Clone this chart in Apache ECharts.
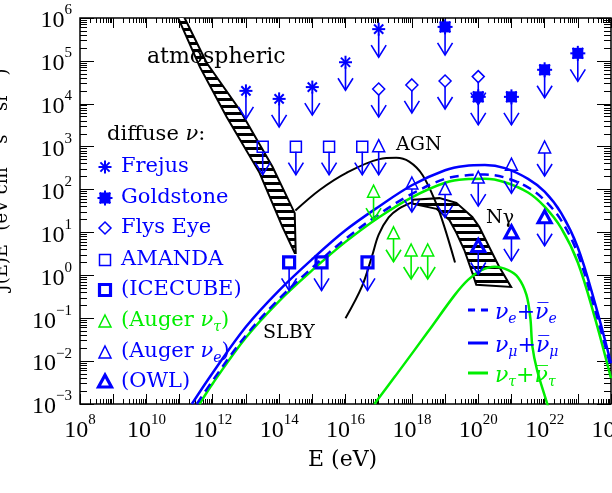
<!DOCTYPE html>
<html>
<head>
<meta charset="utf-8">
<script src="https://cdn.jsdelivr.net/npm/echarts@6/dist/echarts.min.js"></script>
<style>
  html, body { margin: 0; padding: 0; background: #fff; }
  #chart { width: 612px; height: 493px; }
</style>
</head>
<body>
<div id="chart"></div>
<script>
(function() {
  'use strict';

  // --- Upper limits: [E (eV), J(E)E^2] at the marker ---
  var frejus = [[1e13, 2.0e4], [1e14, 1.3e4], [1e15, 2.45e4], [1e16, 9.3e4], [1e17, 5.5e5]];
  var goldstone = [[1e19, 6.2e5], [1e20, 1.45e4], [1e21, 1.45e4], [1e22, 6.2e4], [1e23, 1.5e5]];
  var flysEye = [[1e17, 2.2e4], [1e18, 2.75e4], [1e19, 3.4e4], [1e20, 4.3e4]];
  var amanda = [[3.2e13, 1000], [3.2e14, 1000], [3.2e15, 1000], [3.2e16, 1000]];
  var icecube = [[2e14, 2], [1.9e15, 2], [4.6e16, 2]];
  var augerTau = [[7e16, 87], [2.8e17, 9.3], [9.5e17, 3.7], [3e18, 3.7]];
  var augerE = [[1e17, 1000], [1e18, 135], [1e19, 100], [1e20, 185], [1e21, 370], [1e22, 930]];
  var owl = [[1e20, 4.7], [1e21, 9.8], [1e22, 22]];

  // --- Curves and bands: [log10 E, log10 J(E)E^2] ---
  var nuMuLog = [[11.37,-3],[12,-2.27],[13,-1.2],[14,-0.35],[15,0.38],[16,1.05],[17,1.6],[18,2.1],[19,2.45],[19.6,2.55],[20.2,2.57],[20.8,2.5],[21.5,2.25],[22,1.95],[22.5,1.45],[23,0.65],[23.5,-0.6],[24,-2.05]];
  var nuELog = [[11.52,-3],[12,-2.45],[13,-1.4],[14,-0.55],[15,0.18],[16,0.85],[17,1.42],[18,1.9],[19,2.25],[19.6,2.33],[20.2,2.35],[20.8,2.28],[21.5,2.05],[22,1.75],[22.5,1.28],[23,0.5],[23.5,-0.75],[24,-2.15]];
  var nuTauLog = [[11.6,-3],[12,-2.52],[13,-1.45],[14,-0.6],[15,0.12],[16,0.78],[17,1.35],[18,1.82],[19,2.16],[19.6,2.24],[20.2,2.25],[20.8,2.17],[21.5,1.93],[22,1.6],[22.5,1.1],[23,0.3],[23.5,-0.95],[24,-2.4]];
  var tauLowLog = [[16.87,-3],[17.5,-2.35],[18.5,-1.3],[19.3,-0.45],[19.7,-0.1],[20.1,0.12],[20.5,0.2],[20.9,0.12],[21.2,-0.05],[21.45,-0.45],[21.57,-1.0],[21.63,-1.65],[21.77,-2.2],[22.04,-2.9],[22.1,-3.05]];
  var agnLog = [[14.49,1.51],[15.22,1.99],[16.03,2.39],[17.02,2.71],[17.53,2.74],[17.92,2.65],[18.32,2.34],[18.73,1.68],[18.98,1.13],[19.3,0.3]];
  var slbyLog = [[16.0,-1.0],[16.5,-0.25],[16.8,0.45],[17.0,0.95],[17.3,1.35],[17.6,1.55],[18.0,1.7]];
  var atmosBand = [[10.93,6.05],[11.12,6.05],[11.82,4.95],[12.81,3.86],[13.8,2.53],[14.47,1.45],[14.5,0.52],[14.47,0.52],[14.1,1.13],[13.41,2.39],[12.42,3.69],[11.61,4.86]];
  var ngammaBand = [[18.02,1.76],[18.83,1.8],[19.34,1.69],[19.82,1.36],[20.03,1.13],[20.33,0.66],[20.63,0.2],[20.99,-0.27],[19.94,-0.22],[19.82,0.06],[19.58,0.59],[19.34,0.99],[19.13,1.29],[18.74,1.55],[18.02,1.67]];

  // Axis decades; minor ticks sit at 2..9 x 10^n
  var xDecades = [8, 9, 10, 11, 12, 13, 14, 15, 16, 17, 18, 19, 20, 21, 22, 23];
  var yDecades = [-3, -2, -1, 0, 1, 2, 3, 4, 5];
  var minorSteps = [2, 3, 4, 5, 6, 7, 8, 9];

  var BLUE = '#0000ff';
  var GREEN = '#00ee00';
  var SERIF = '"DejaVu Serif", serif';
  var NUM = '"Liberation Serif", serif';
  var X_MIN = 1e8, X_MAX = 1e24, Y_MIN = 1e-3, Y_MAX = 1e6;

  function fromLog(arr) {
    return arr.map(function(p) { return [Math.pow(10, p[0]), Math.pow(10, p[1])]; });
  }
  function minorValues(decades) {
    var out = [];
    decades.forEach(function(d) {
      minorSteps.forEach(function(k) { out.push(k * Math.pow(10, d)); });
    });
    return out;
  }

  // --- Hatch pattern for the shaded bands ---
  var hatch = document.createElement('canvas');
  hatch.width = 8; hatch.height = 7;
  var hg = hatch.getContext('2d');
  hg.fillStyle = '#fff'; hg.fillRect(0, 0, 8, 7);
  hg.fillStyle = '#000'; hg.fillRect(0, 0, 8, 3);

  // --- Marker shapes ---
  function markerEls(kind, cx, cy, color) {
    function open() { return { stroke: color, fill: 'none', lineWidth: 1.5 }; }
    function thick() { return { stroke: color, fill: 'none', lineWidth: 3.2 }; }
    function spokes(r, w) {
      var out = [];
      [0, 45, 90, 135].forEach(function(a) {
        var c = Math.cos(a * Math.PI / 180) * r, s = Math.sin(a * Math.PI / 180) * r;
        out.push({ type: 'line', shape: { x1: cx - c, y1: cy - s, x2: cx + c, y2: cy + s },
          style: { stroke: color, lineWidth: w } });
      });
      return out;
    }
    switch (kind) {
      case 'star': return spokes(6.5, 2);
      case 'fstar':
        return [{ type: 'rect', shape: { x: cx - 5.5, y: cy - 5.5, width: 11, height: 11 }, style: { fill: color } }]
          .concat(spokes(7.5, 2));
      case 'diamond':
        return [{ type: 'polygon', shape: { points: [[cx, cy - 6], [cx + 6, cy], [cx, cy + 6], [cx - 6, cy]] }, style: open() }];
      case 'square':
        return [{ type: 'rect', shape: { x: cx - 5.5, y: cy - 5.5, width: 11, height: 11 }, style: open() }];
      case 'bsquare':
        return [{ type: 'rect', shape: { x: cx - 5.5, y: cy - 5.5, width: 11, height: 11 }, style: thick() }];
      case 'tri':
        return [{ type: 'polygon', shape: { points: [[cx, cy - 7], [cx + 6, cy + 5], [cx - 6, cy + 5]] }, style: open() }];
      case 'btri':
        return [{ type: 'polygon', shape: { points: [[cx, cy - 7], [cx + 6.5, cy + 5], [cx - 6.5, cy + 5]] }, style: thick() }];
    }
    return [];
  }

  function arrowEls(cx, cy, color) {
    return [
      { type: 'line', shape: { x1: cx, y1: cy + 5, x2: cx, y2: cy + 28 }, style: { stroke: color, lineWidth: 1.6 } },
      { type: 'polyline', shape: { points: [[cx - 7.5, cy + 16], [cx, cy + 28], [cx + 7.5, cy + 16]] },
        style: { stroke: color, fill: 'none', lineWidth: 1.6 } }
    ];
  }

  function limitSeries(name, data, kind, color) {
    return {
      name: name, type: 'custom', data: data, z: 5,
      encode: { x: 0, y: 1 },
      renderItem: function(params, api) {
        var p = api.coord([api.value(0), api.value(1)]);
        return { type: 'group', children: markerEls(kind, p[0], p[1], color).concat(arrowEls(p[0], p[1], color)) };
      }
    };
  }

  function curve(name, arr, color, width, dashed) {
    return {
      name: name, type: 'line', data: fromLog(arr), symbol: 'none', showSymbol: false,
      smooth: 0.35, z: 3,
      lineStyle: { color: color, width: width, type: dashed ? [9, 6] : 'solid' }
    };
  }

  function bandSeries(name, arr) {
    return {
      name: name, type: 'custom', data: fromLog(arr), clip: true, z: 2,
      encode: { x: 0, y: 1 },
      renderItem: function(params, api) {
        if (params.dataIndex !== 0) return null;
        var pts = arr.map(function(p) { return api.coord([Math.pow(10, p[0]), Math.pow(10, p[1])]); });
        return { type: 'polygon', shape: { points: pts },
          style: { fill: { image: hatch, repeat: 'repeat' }, stroke: '#000', lineWidth: 2 } };
      }
    };
  }

  var powRich = {
    b: { fontFamily: NUM, fontSize: 24, lineHeight: 30, verticalAlign: 'bottom', color: '#000' },
    s: { fontFamily: NUM, fontSize: 15, lineHeight: 16, verticalAlign: 'top', color: '#000' }
  };
  function powLabel(v) {
    var p = Math.round(Math.log10(v));
    return '{b|10}{s|' + (p < 0 ? '\u2212' + (-p) : p) + '}';
  }
  function evenPowLabel(v) {
    var p = Math.round(Math.log10(v));
    return p % 2 === 0 ? powLabel(v) : '';
  }

  // --- Tick-only axes layered on the same grid (ticks point inward) ---
  function tickAxis(kind, position, min, max, len, customValues) {
    var ax = {
      type: 'log', gridIndex: 0, position: position, min: min, max: max,
      axisLine: { show: false }, splitLine: { show: false }, axisLabel: { show: false },
      axisTick: { show: true, inside: true, length: len, lineStyle: { color: '#000', width: 1 } }
    };
    if (customValues) ax.axisTick.customValues = customValues;
    else ax.interval = 1;
    return ax;
  }

  // --- Text / legend graphics ---
  var subRich = function(color, size) {
    return {
      t: { fontFamily: SERIF, fontSize: size, lineHeight: 24, verticalAlign: 'top', color: color },
      n: { fontFamily: SERIF, fontStyle: 'italic', fontSize: size, lineHeight: 24, verticalAlign: 'top', color: color },
      s: { fontFamily: SERIF, fontStyle: 'italic', fontSize: 14, lineHeight: 18, verticalAlign: 'bottom', color: color }
    };
  };
  function txt(x, y, text, color, size, rich) {
    var st = { x: x, y: y, text: text, fill: color, font: size + 'px ' + SERIF, align: 'left', verticalAlign: 'middle' };
    if (rich) st.rich = rich;
    return { type: 'text', style: st, z: 10 };
  }
  function legendMark(kind, x, y, color) {
    return { type: 'group', children: markerEls(kind, x, y, color), z: 10 };
  }

  var legendRows = [
    ['star', 'Frejus', BLUE, 167],
    ['fstar', 'Goldstone', BLUE, 198],
    ['diamond', 'Flys Eye', BLUE, 228],
    ['square', 'AMANDA', BLUE, 260],
    ['bsquare', '(ICECUBE)', BLUE, 290],
    ['tri', '{t|(Auger }{n|\u03bd}{s|\u03c4}{t|)}', GREEN, 322],
    ['tri', '{t|(Auger }{n|\u03bd}{s|e}{t|)}', BLUE, 353],
    ['btri', '(OWL)', BLUE, 382]
  ];

  var graphics = [
    txt(147, 57, 'atmospheric', '#000', 22),
    txt(107, 136, '{t|diffuse }{n|\u03bd}{t|:}', '#000', 21, subRich('#000', 21)),
    txt(396, 145, 'AGN', '#000', 19),
    txt(486, 218, 'N\u03b3', '#000', 19),
    txt(263, 333, 'SLBY', '#000', 19),
    txt(308, 460, 'E (eV)', '#000', 22),
    {
      type: 'text', x: -1, y: 180, rotation: Math.PI / 2, z: 10,
      style: { text: '{t|J(E)E}{u|2}{t| (eV cm}{u|\u22122}{t| s}{u|\u22121}{t| sr}{u|\u22121}{t|)}',
        align: 'center', verticalAlign: 'middle', fill: '#000',
        rich: {
          t: { fontFamily: SERIF, fontSize: 18, lineHeight: 24, verticalAlign: 'bottom', color: '#000' },
          u: { fontFamily: SERIF, fontSize: 12, lineHeight: 14, verticalAlign: 'top', color: '#000' }
        } }
    }
  ];
  legendRows.forEach(function(r) {
    graphics.push(legendMark(r[0], 105, r[3], r[2]));
    var rich = r[1].indexOf('{') >= 0 ? subRich(r[2], 21) : null;
    graphics.push(txt(121, r[3], r[1], r[2], 21, rich));
  });

  // Flux-model key, lower right
  var keyRows = [
    [310, BLUE, [7, 6], '{n|\u03bd}{s|e}{p|+}{n|\u03bd\u0305}{s|e}'],
    [343, BLUE, 'solid', '{n|\u03bd}{s|\u03bc}{p|+}{n|\u03bd\u0305}{s|\u03bc}'],
    [373, GREEN, 'solid', '{n|\u03bd}{s|\u03c4}{p|+}{n|\u03bd\u0305}{s|\u03c4}']
  ];
  keyRows.forEach(function(r) {
    var st = { stroke: r[1], lineWidth: 3 };
    if (r[2] !== 'solid') st.lineDash = r[2];
    graphics.push({ type: 'line', z: 10, shape: { x1: 468, y1: r[0], x2: 488, y2: r[0] }, style: st });
    var rich = subRich(r[1], 22);
    rich.p = { fontFamily: SERIF, fontSize: 22, lineHeight: 24, verticalAlign: 'top', color: r[1] };
    graphics.push(txt(495, r[0] + 4, r[3], r[1], 22, rich));
  });

  var chart = echarts.init(document.getElementById('chart'), null, { renderer: 'canvas' });

  chart.setOption({
    animation: false,
    grid: {
      left: 80, top: 18, width: 531, height: 386, containLabel: false, outerBoundsMode: 'none',
      show: true, borderColor: '#000', borderWidth: 1.5
    },
    xAxis: [
      {
        type: 'log', gridIndex: 0, position: 'bottom', min: X_MIN, max: X_MAX, interval: 1,
        axisLine: { show: false }, splitLine: { show: false },
        axisTick: { show: true, inside: true, length: 10, lineStyle: { color: '#000', width: 1 } },
        axisLabel: { margin: 9, formatter: evenPowLabel, rich: powRich, showMinLabel: true, showMaxLabel: true, hideOverlap: false }
      },
      tickAxis('x', 'bottom', X_MIN, X_MAX, 5, minorValues(xDecades)),
      tickAxis('x', 'top', X_MIN, X_MAX, 10, null),
      tickAxis('x', 'top', X_MIN, X_MAX, 5, minorValues(xDecades))
    ],
    yAxis: [
      {
        type: 'log', gridIndex: 0, position: 'left', min: Y_MIN, max: Y_MAX, interval: 1,
        axisLine: { show: false }, splitLine: { show: false },
        axisTick: { show: true, inside: true, length: 14, lineStyle: { color: '#000', width: 1 } },
        axisLabel: { margin: 8, formatter: powLabel, rich: powRich, showMinLabel: true, showMaxLabel: true }
      },
      tickAxis('y', 'left', Y_MIN, Y_MAX, 7, minorValues(yDecades)),
      tickAxis('y', 'right', Y_MIN, Y_MAX, 14, null),
      tickAxis('y', 'right', Y_MIN, Y_MAX, 7, minorValues(yDecades))
    ],
    graphic: graphics,
    series: [
      bandSeries('atmospheric', atmosBand),
      bandSeries('N gamma', ngammaBand),
      curve('AGN', agnLog, '#000', 2, false),
      curve('SLBY', slbyLog, '#000', 2, false),
      curve('nu_tau low', tauLowLog, GREEN, 2.5, false),
      curve('nu_tau', nuTauLog, GREEN, 2.5, false),
      curve('nu_e', nuELog, BLUE, 2.5, true),
      curve('nu_mu', nuMuLog, BLUE, 2.5, false),
      limitSeries('Frejus', frejus, 'star', BLUE),
      limitSeries('Goldstone', goldstone, 'fstar', BLUE),
      limitSeries('Flys Eye', flysEye, 'diamond', BLUE),
      limitSeries('AMANDA', amanda, 'square', BLUE),
      limitSeries('ICECUBE', icecube, 'bsquare', BLUE),
      limitSeries('Auger tau', augerTau, 'tri', GREEN),
      limitSeries('Auger e', augerE, 'tri', BLUE),
      limitSeries('OWL', owl, 'btri', BLUE)
    ]
  });
})();
</script>
</body>
</html>
